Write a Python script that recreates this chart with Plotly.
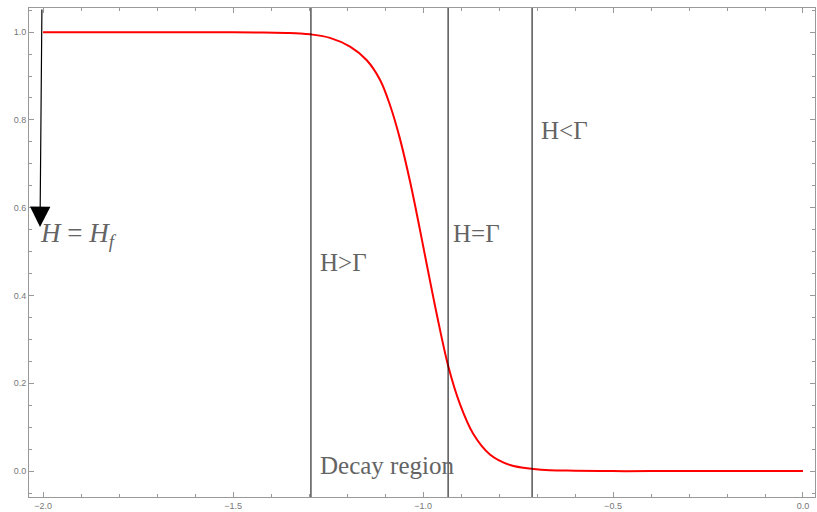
import plotly.graph_objects as go

# Curve
x_vals = [-2.0, -1.8, -1.6, -1.5, -1.42, -1.36, -1.324, -1.297, -1.245, -1.192, -1.148, -1.113,
          -1.087, -1.061, -1.034, -1.010, -0.990, -0.964, -0.933, -0.903, -0.868, -0.824,
          -0.771, -0.709, -0.666, -0.6, -0.5, -0.4, -0.2, 0.0]
y_vals = [1.0, 1.0, 1.0, 0.9995, 0.999, 0.998, 0.997, 0.995, 0.987, 0.967, 0.936, 0.891,
          0.834, 0.758, 0.659, 0.558, 0.470, 0.358, 0.237, 0.153, 0.085, 0.038,
          0.014, 0.005, 0.002, 0.001, 0.0, 0.0, 0.0, 0.0]

# Vertical marker lines
vline_x = [-1.295, -0.934, -0.713]

# Text labels
label_texts = ["H>Γ", "H=Γ", "H<Γ", "Decay region"]
label_x = [-1.276, -0.926, -0.695, -1.276]
label_y = [0.476, 0.542, 0.777, 0.012]

# Arrow (tail -> head) and its label
arrow_tail = (-2.003, 1.055)
arrow_head = (-2.008, 0.556)
hf_label = "<i>H</i> = <i>H</i><sub><i>f</i></sub>"
hf_pos = (-2.013, 0.538)

x_range = [-2.037, 0.0316]
y_range = [-0.059, 1.055]

fig = go.Figure()
fig.add_trace(go.Scatter(x=x_vals, y=y_vals, mode="lines",
                         line=dict(color="red", width=2, shape="spline", smoothing=1.0),
                         showlegend=False, hoverinfo="skip"))

for xv in vline_x:
    fig.add_shape(type="line", xref="x", yref="paper", x0=xv, x1=xv, y0=0, y1=1,
                  line=dict(color="black", width=1))

text_font = dict(family="Liberation Serif, Times New Roman, serif", size=25, color="#646464")
for t, xv, yv in zip(label_texts, label_x, label_y):
    fig.add_annotation(x=xv, y=yv, text=t, showarrow=False, xanchor="left", yanchor="middle",
                       font=text_font)

fig.add_annotation(x=arrow_head[0], y=arrow_head[1], ax=arrow_tail[0], ay=arrow_tail[1],
                   axref="x", ayref="y", xref="x", yref="y", text="", showarrow=True,
                   arrowhead=2, arrowsize=3.4, arrowwidth=1.2, arrowcolor="black")
fig.add_annotation(x=hf_pos[0], y=hf_pos[1], text=hf_label, showarrow=False, xanchor="left",
                   yanchor="middle", font=dict(text_font, size=27))

axis_common = dict(showline=True, linecolor="#999999", linewidth=1, mirror="allticks",
                   ticks="inside", ticklen=5, tickcolor="#999999", showgrid=False, zeroline=False,
                   automargin=False,
                   tickfont=dict(family="Liberation Sans, Arial, sans-serif", size=9, color="#777777"),
                   tickformat=".1f")

fig.update_xaxes(range=x_range, dtick=0.5, tick0=-2.0,
                 minor=dict(dtick=0.1, ticks="inside", ticklen=3, tickcolor="#999999"),
                 **axis_common)
fig.update_yaxes(range=y_range, dtick=0.2, tick0=0.0,
                 minor=dict(dtick=0.05, ticks="inside", ticklen=3, tickcolor="#999999"),
                 **axis_common)

fig.update_layout(width=817, height=512, margin=dict(l=29, r=2, t=8, b=15, autoexpand=False),
                  plot_bgcolor="white", paper_bgcolor="white")

fig.write_html("out.html", config={"displayModeBar": False},
               post_script="document.body.style.margin='0';document.body.style.overflow='hidden';")
